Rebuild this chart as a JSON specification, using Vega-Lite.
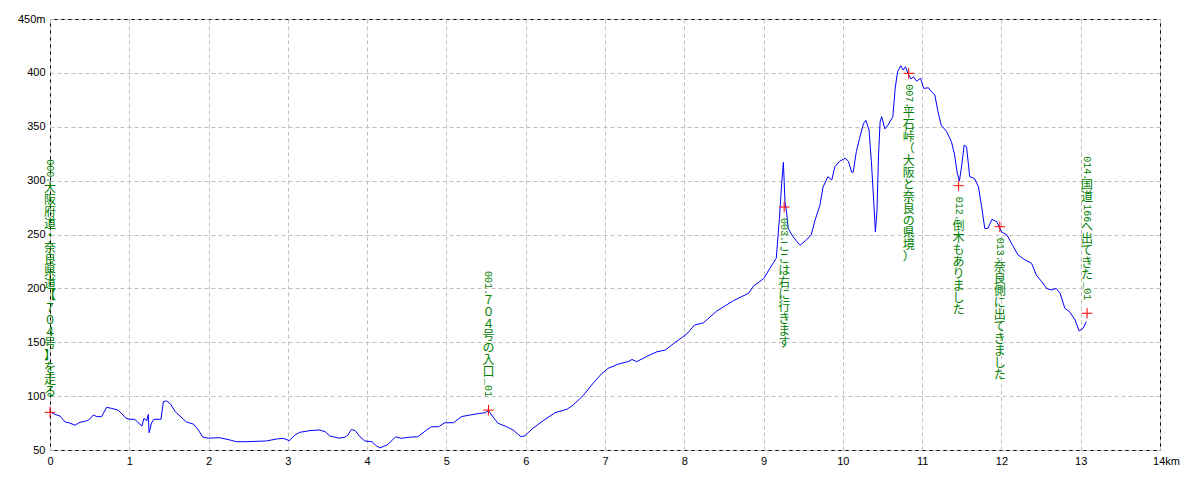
{
  "$schema": "https://vega.github.io/schema/vega-lite/v6.json",
  "width": 1110,
  "height": 431,
  "autosize": {"type": "none"},
  "padding": {"left": 50, "top": 19, "right": 40, "bottom": 30},
  "background": "white",
  "config": {
    "view": {"stroke": "#000000", "strokeWidth": 1},
    "axis": {
      "grid": true,
      "gridDash": [4, 3],
      "gridColor": "#c0c0c0",
      "gridWidth": 1,
      "ticks": false,
      "domain": false,
      "title": null,
      "labelFont": "Liberation Sans",
      "labelFontSize": 11,
      "labelColor": "#000000",
      "labelPadding": 5,
      "labelFlush": false,
      "labelOverlap": false
    }
  },
  "datasets": {
    "profile": [
      {"km": 0, "elev": 85.5}, {"km": 0.063, "elev": 83}, {"km": 0.126, "elev": 81.5}, {"km": 0.19, "elev": 76},
      {"km": 0.25, "elev": 75}, {"km": 0.315, "elev": 73}, {"km": 0.378, "elev": 75.7}, {"km": 0.46, "elev": 77},
      {"km": 0.5, "elev": 78.5}, {"km": 0.546, "elev": 82.5}, {"km": 0.59, "elev": 81}, {"km": 0.65, "elev": 81},
      {"km": 0.715, "elev": 89.6}, {"km": 0.78, "elev": 88.6}, {"km": 0.86, "elev": 87}, {"km": 0.9, "elev": 84},
      {"km": 0.96, "elev": 79.4}, {"km": 1.01, "elev": 78.5}, {"km": 1.07, "elev": 78.5}, {"km": 1.11, "elev": 75.4},
      {"km": 1.16, "elev": 72.3}, {"km": 1.185, "elev": 79.4}, {"km": 1.22, "elev": 77}, {"km": 1.24, "elev": 83},
      {"km": 1.25, "elev": 66}, {"km": 1.28, "elev": 75}, {"km": 1.31, "elev": 78.5}, {"km": 1.4, "elev": 78.5},
      {"km": 1.43, "elev": 95}, {"km": 1.47, "elev": 95.5}, {"km": 1.52, "elev": 92.7}, {"km": 1.58, "elev": 85.5},
      {"km": 1.64, "elev": 81.5}, {"km": 1.72, "elev": 76}, {"km": 1.81, "elev": 74}, {"km": 1.87, "elev": 68.6},
      {"km": 1.93, "elev": 61.8}, {"km": 2.0, "elev": 61}, {"km": 2.14, "elev": 61.4}, {"km": 2.27, "elev": 59.3},
      {"km": 2.35, "elev": 57.7}, {"km": 2.48, "elev": 57.7}, {"km": 2.73, "elev": 58.4}, {"km": 2.86, "elev": 60.2},
      {"km": 2.94, "elev": 60.9}, {"km": 3.02, "elev": 58.6}, {"km": 3.09, "elev": 64}, {"km": 3.15, "elev": 66.4},
      {"km": 3.28, "elev": 68}, {"km": 3.4, "elev": 68.6}, {"km": 3.47, "elev": 67}, {"km": 3.53, "elev": 63},
      {"km": 3.64, "elev": 61}, {"km": 3.72, "elev": 61.8}, {"km": 3.76, "elev": 64}, {"km": 3.8, "elev": 69},
      {"km": 3.85, "elev": 68}, {"km": 3.91, "elev": 62.3}, {"km": 3.97, "elev": 58.4}, {"km": 4.06, "elev": 57.7},
      {"km": 4.12, "elev": 53.7}, {"km": 4.16, "elev": 52}, {"km": 4.25, "elev": 54.6}, {"km": 4.31, "elev": 58.6},
      {"km": 4.36, "elev": 62.3}, {"km": 4.43, "elev": 60.8}, {"km": 4.52, "elev": 61.8}, {"km": 4.64, "elev": 62.3},
      {"km": 4.75, "elev": 68.6}, {"km": 4.81, "elev": 71.6}, {"km": 4.9, "elev": 71.6}, {"km": 4.98, "elev": 75.3},
      {"km": 5.09, "elev": 75.3}, {"km": 5.19, "elev": 81}, {"km": 5.3, "elev": 82.5}, {"km": 5.42, "elev": 84},
      {"km": 5.49, "elev": 84.6}, {"km": 5.53, "elev": 86.5}, {"km": 5.57, "elev": 82.5}, {"km": 5.65, "elev": 74.8},
      {"km": 5.76, "elev": 71.6}, {"km": 5.84, "elev": 68.6}, {"km": 5.94, "elev": 62.3}, {"km": 5.99, "elev": 63.3},
      {"km": 6.09, "elev": 70.1}, {"km": 6.22, "elev": 77.2}, {"km": 6.37, "elev": 84.6}, {"km": 6.52, "elev": 87.8},
      {"km": 6.6, "elev": 91.8}, {"km": 6.73, "elev": 101}, {"km": 6.85, "elev": 112}, {"km": 6.96, "elev": 121},
      {"km": 7.04, "elev": 125.8}, {"km": 7.17, "elev": 129.8}, {"km": 7.29, "elev": 132}, {"km": 7.34, "elev": 134},
      {"km": 7.4, "elev": 132}, {"km": 7.52, "elev": 136.6}, {"km": 7.65, "elev": 141}, {"km": 7.76, "elev": 142.8},
      {"km": 7.88, "elev": 149.6}, {"km": 8.03, "elev": 157.6}, {"km": 8.13, "elev": 166}, {"km": 8.24, "elev": 168},
      {"km": 8.41, "elev": 179}, {"km": 8.62, "elev": 188.6}, {"km": 8.81, "elev": 195.4}, {"km": 8.87, "elev": 202},
      {"km": 9.0, "elev": 209}, {"km": 9.08, "elev": 218.6}, {"km": 9.16, "elev": 228}, {"km": 9.2, "elev": 265},
      {"km": 9.23, "elev": 299}, {"km": 9.25, "elev": 317}, {"km": 9.26, "elev": 299}, {"km": 9.27, "elev": 280},
      {"km": 9.29, "elev": 271}, {"km": 9.31, "elev": 255.7}, {"km": 9.37, "elev": 248}, {"km": 9.46, "elev": 240},
      {"km": 9.54, "elev": 245}, {"km": 9.6, "elev": 249.5}, {"km": 9.65, "elev": 263.4}, {"km": 9.71, "elev": 277},
      {"km": 9.75, "elev": 294}, {"km": 9.81, "elev": 303.6}, {"km": 9.86, "elev": 300.6}, {"km": 9.9, "elev": 313},
      {"km": 9.96, "elev": 318}, {"km": 10.03, "elev": 320.7}, {"km": 10.07, "elev": 318}, {"km": 10.11, "elev": 308},
      {"km": 10.13, "elev": 307.7}, {"km": 10.17, "elev": 327}, {"km": 10.21, "elev": 339}, {"km": 10.26, "elev": 353},
      {"km": 10.29, "elev": 356}, {"km": 10.33, "elev": 347}, {"km": 10.36, "elev": 317.5}, {"km": 10.39, "elev": 280},
      {"km": 10.41, "elev": 252.6}, {"km": 10.43, "elev": 271}, {"km": 10.45, "elev": 323.8}, {"km": 10.47, "elev": 354.7},
      {"km": 10.49, "elev": 359.3}, {"km": 10.53, "elev": 348}, {"km": 10.57, "elev": 351.6}, {"km": 10.63, "elev": 359.3},
      {"km": 10.66, "elev": 385.6}, {"km": 10.69, "elev": 401}, {"km": 10.73, "elev": 406.6}, {"km": 10.76, "elev": 402.6},
      {"km": 10.79, "elev": 405.7}, {"km": 10.82, "elev": 399.6}, {"km": 10.86, "elev": 394.3}, {"km": 10.89, "elev": 396.4},
      {"km": 10.93, "elev": 392.4}, {"km": 10.98, "elev": 395}, {"km": 11.02, "elev": 385.6}, {"km": 11.08, "elev": 386.2},
      {"km": 11.1, "elev": 384}, {"km": 11.16, "elev": 379.4}, {"km": 11.2, "elev": 364}, {"km": 11.24, "elev": 351.6},
      {"km": 11.31, "elev": 345.4}, {"km": 11.37, "elev": 336}, {"km": 11.41, "elev": 323.8}, {"km": 11.44, "elev": 308},
      {"km": 11.47, "elev": 299.6}, {"km": 11.5, "elev": 314.5}, {"km": 11.53, "elev": 333}, {"km": 11.56, "elev": 331.5},
      {"km": 11.6, "elev": 303.6}, {"km": 11.66, "elev": 302}, {"km": 11.71, "elev": 294.3}, {"km": 11.75, "elev": 275.8},
      {"km": 11.79, "elev": 255.7}, {"km": 11.83, "elev": 255.7}, {"km": 11.88, "elev": 264}, {"km": 11.94, "elev": 262},
      {"km": 12.0, "elev": 252.6}, {"km": 12.07, "elev": 249.5}, {"km": 12.15, "elev": 238.7}, {"km": 12.21, "elev": 231},
      {"km": 12.3, "elev": 226.3}, {"km": 12.38, "elev": 223.3}, {"km": 12.44, "elev": 212.4}, {"km": 12.51, "elev": 206},
      {"km": 12.57, "elev": 200}, {"km": 12.63, "elev": 198.5}, {"km": 12.69, "elev": 200}, {"km": 12.74, "elev": 195.4},
      {"km": 12.8, "elev": 181.5}, {"km": 12.86, "elev": 178.3}, {"km": 12.93, "elev": 170.6}, {"km": 12.98, "elev": 160.4},
      {"km": 13.03, "elev": 163}, {"km": 13.07, "elev": 169}
    ],
    "markers": [
      {"id": "000", "km": 0, "elev": 85, "label": "000.大阪府道・奈良県道【７０４号】を走る"},
      {"id": "001", "km": 5.53, "elev": 87, "label": "001.７０４号の入口_01"},
      {"id": "003", "km": 9.26, "elev": 275.5, "label": "003.ここは右に行きます"},
      {"id": "007", "km": 10.83, "elev": 399.6, "label": "007.平石峠（大阪と奈良の県境）"},
      {"id": "012", "km": 11.46, "elev": 295.3, "label": "012.倒木もありました"},
      {"id": "013", "km": 11.98, "elev": 257.2, "label": "013.奈良側に出てきました"},
      {"id": "014", "km": 13.08, "elev": 176.9, "label": "014.国道166へ出てきた_01"}
    ]
  },
  "encoding": {
    "x": {
      "field": "km", "type": "quantitative",
      "scale": {"domain": [0, 14], "nice": false, "zero": false},
      "axis": {
        "values": [0, 1, 2, 3, 4, 5, 6, 7, 8, 9, 10, 11, 12, 13, 14],
        "labelExpr": "datum.value == 14 ? '14km' : datum.label",
        "labelOffset": {"condition": {"test": "datum.value == 14", "value": 6}, "value": 0}
      }
    },
    "y": {
      "field": "elev", "type": "quantitative",
      "scale": {"domain": [50, 450], "nice": false, "zero": false},
      "axis": {
        "values": [50, 100, 150, 200, 250, 300, 350, 400, 450],
        "labelExpr": "datum.value == 450 ? '450m' : datum.label"
      }
    }
  },
  "layer": [
    {
      "data": {"name": "profile"},
      "mark": {"type": "line", "color": "#0000ff", "strokeWidth": 1, "clip": true}
    },
    {
      "data": {"name": "markers"},
      "mark": {"type": "point", "shape": "M-1,0H1M0,-1V1", "size": 110, "filled": false, "color": "#ff0000", "strokeWidth": 1, "opacity": 1}
    },
    {
      "data": {"name": "markers"},
      "transform": [
        {"filter": {"field": "id", "oneOf": ["000", "001", "014"]}},
        {"calculate": "split(replace(replace(datum.label, regexp('[\\x00-\\x7F]', 'g'), '\u200b|'), regexp('[^\\x00-\\x7F\u200b]', 'g'), '$&|\u200b|'), '|')", "as": "lines"}
      ],
      "mark": {"type": "text", "align": "center", "baseline": "top", "lineHeight": 6, "font": "Noto Sans CJK JP", "fontSize": 12, "dy": {"expr": "-13 - 6 * (length(datum.lines) - 1)"}, "color": "#008000"},
      "encoding": {"text": {"field": "lines", "type": "nominal"}}
    },
    {
      "data": {"name": "markers"},
      "transform": [
        {"filter": {"field": "id", "oneOf": ["000", "001", "014"]}},
        {"calculate": "replace(datum.label, regexp('[^\\x00-\\x7F]', 'g'), '\u00a0\u00a0') + '\u200b'", "as": "rot"}
      ],
      "mark": {"type": "text", "angle": 90, "align": "right", "baseline": "middle", "font": "Liberation Mono", "fontSize": 10, "dx": -13, "color": "#008000"},
      "encoding": {"text": {"field": "rot", "type": "nominal"}}
    },
    {
      "data": {"name": "markers"},
      "transform": [
        {"filter": {"field": "id", "oneOf": ["003", "007", "012", "013"]}},
        {"calculate": "split(replace(replace(datum.label, regexp('[\\x00-\\x7F]', 'g'), '\u200b|'), regexp('[^\\x00-\\x7F\u200b]', 'g'), '$&|\u200b|'), '|')", "as": "lines"}
      ],
      "mark": {"type": "text", "align": "center", "baseline": "top", "lineHeight": 6, "font": "Noto Sans CJK JP", "fontSize": 12, "dy": 11, "color": "#008000"},
      "encoding": {"text": {"field": "lines", "type": "nominal"}}
    },
    {
      "data": {"name": "markers"},
      "transform": [
        {"filter": {"field": "id", "oneOf": ["003", "007", "012", "013"]}},
        {"calculate": "replace(datum.label, regexp('[^\\x00-\\x7F]', 'g'), '\u00a0\u00a0') + '\u200b'", "as": "rot"}
      ],
      "mark": {"type": "text", "angle": 90, "align": "left", "baseline": "middle", "font": "Liberation Mono", "fontSize": 10, "dx": 11, "color": "#008000"},
      "encoding": {"text": {"field": "rot", "type": "nominal"}}
    }
  ]
}
